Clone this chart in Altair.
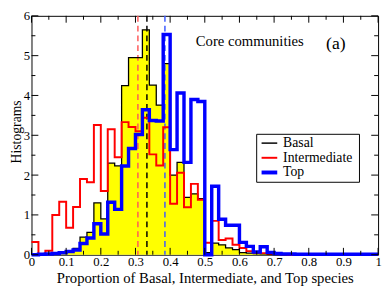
import altair as alt
import pandas as pd

# ---- data (histogram heights, bin width 0.02, bins from 0 to 1) ----
bin_width = 0.02
basal = [0.01, 0.02, 0.02, 0.03, 0.05, 0.08, 0.16, 0.44, 0.56, 1.30,
         0.90, 2.30, 2.23, 4.25, 4.95, 4.95, 5.65, 4.26, 3.76, 4.80,
         2.00, 2.32, 1.44, 1.53, 1.41, 0.05, 0.29, 0.25, 0.17, 0.13,
         0.05, 0.04, 0.03, 0.02, 0.01, 0.0, 0.0, 0.0, 0.0, 0.0,
         0.0, 0.0, 0.0, 0.0, 0.0, 0.0, 0.0, 0.0, 0.0, 0.0]
intermediate = [0.32, 0.0, 0.10, 1.00, 1.33, 0.68, 1.20, 1.90, 1.82, 3.26,
                1.60, 3.15, 2.45, 3.33, 3.21, 3.10, 3.44, 2.52, 2.24, 3.20,
                1.28, 2.06, 1.19, 1.78, 1.38, 0.30, 0.85, 0.37, 0.41, 0.25,
                0.17, 0.09, 0.05, 0.04, 0.03, 0.02, 0.01, 0.0, 0.0, 0.0,
                0.0, 0.0, 0.0, 0.0, 0.0, 0.0, 0.0, 0.0, 0.0, 0.0]
top = [0.0, 0.01, 0.02, 0.03, 0.05, 0.08, 0.12, 0.28, 0.42, 0.78,
       0.52, 1.32, 1.14, 2.23, 2.67, 3.02, 3.64, 3.37, 3.36, 5.53,
       2.64, 4.06, 2.32, 3.90, 3.85, 0.0, 1.72, 0.89, 0.74, 0.74,
       0.31, 0.21, 0.07, 0.20, 0.06, 0.03, 0.02, 0.02, 0.01, 0.01,
       0.01, 0.01, 0.01, 0.01, 0.01, 0.01, 0.01, 0.01, 0.01, 0.01]
mean_names = ["Intermediate", "Basal", "Top"]
mean_values = [0.307, 0.333, 0.385]
mean_colors = ["#ff5a5a", "#000000", "#3c5aff"]

legend_names = ["Basal", "Intermediate", "Top"]
legend_colors = ["#000000", "#ff0000", "#0000ff"]
legend_widths = [1.5, 2, 4]

x_major = [round(i * 0.1, 2) for i in range(11)]
x_minor = [round(0.05 + i * 0.1, 2) for i in range(10)]
y_major = [0, 1, 2, 3, 4, 5, 6]
y_minor = [0.5, 1.5, 2.5, 3.5, 4.5, 5.5]

W, H = 354, 244
FONT = "Liberation Serif"

edges = [round(i * bin_width, 2) for i in range(len(basal) + 1)]


def steps(vals):
    return pd.DataFrame({"x": edges, "y": vals + [vals[-1]]})


xs = alt.Scale(domain=[0, 1], nice=False, zero=False)
ys = alt.Scale(domain=[0, 6], nice=False)
xaxis = alt.Axis(values=x_major, format=".1~f", ticks=False, domain=False, grid=False,
                 labelPadding=1, labelFlush=False, labelOverlap=False,
                 labelFont=FONT, labelFontSize=13,
                 title="Proportion of Basal, Intermediate, and Top species",
                 titleFont=FONT, titleFontSize=15,
                 titleY=28, titleBaseline="alphabetic")
yaxis = alt.Axis(values=y_major, ticks=False, domain=False, grid=False,
                 labelPadding=2, labelFlush=False, labelFont=FONT, labelFontSize=13,
                 title="Histograms", titleFont=FONT, titleFontSize=14,
                 titleX=-11, titleY=118, titleAngle=-90, titleAlign="center",
                 titleBaseline="alphabetic")
X = alt.X("x:Q", scale=xs, axis=xaxis)
Y = alt.Y("y:Q", scale=ys, axis=yaxis)

area = alt.Chart(steps(basal)).mark_area(
    interpolate="step-after", color="#ffff00", opacity=1).encode(x=X, y=Y)

means_df = pd.DataFrame({"x": mean_values, "name": mean_names, "c": mean_colors})
dashed = alt.Chart(means_df).mark_rule(strokeDash=[6, 4], strokeWidth=1.5).encode(
    x=X, color=alt.Color("c:N", scale=None))

line_b = alt.Chart(steps(basal)).mark_line(
    interpolate="step-after", color="#000000", strokeWidth=1.3).encode(x=X, y=Y)
line_i = alt.Chart(steps(intermediate)).mark_line(
    interpolate="step-after", color="#ff0000", strokeWidth=2).encode(x=X, y=Y)
line_t = alt.Chart(steps(top)).mark_line(
    interpolate="step-after", color="#0000ff", strokeWidth=3.5).encode(x=X, y=Y)

# inward ticks on all four sides
xmaj = pd.DataFrame({"x": x_major})
xmin = pd.DataFrame({"x": x_minor})
ymaj = pd.DataFrame({"y": y_major})
ymin = pd.DataFrame({"y": y_minor})
tick_layers = []
for df, ln in [(xmaj, 7), (xmin, 4)]:
    tick_layers.append(alt.Chart(df).mark_rule(color="black").encode(
        x=X, y=alt.value(H), y2=alt.value(H - ln)))
    tick_layers.append(alt.Chart(df).mark_rule(color="black").encode(
        x=X, y=alt.value(0), y2=alt.value(ln)))
for df, ln in [(ymaj, 7), (ymin, 4)]:
    tick_layers.append(alt.Chart(df).mark_rule(color="black").encode(
        y=Y, x=alt.value(0), x2=alt.value(ln)))
    tick_layers.append(alt.Chart(df).mark_rule(color="black").encode(
        y=Y, x=alt.value(W), x2=alt.value(W - ln)))

ann = pd.DataFrame({"x": [0.474, 0.85], "y": [5.235, 5.16],
                    "t": ["Core communities", "(a)"], "s": [15, 18]})
texts = alt.Chart(ann).mark_text(font=FONT, align="left", baseline="alphabetic",
                                 color="black").encode(
    x=X, y=Y, text="t:N", size=alt.Size("s:Q", scale=None))

# legend box
one = pd.DataFrame({"a": [0]})
box = alt.Chart(one).mark_rect(fill="white", stroke="black", strokeWidth=1).encode(
    x=alt.value(230), x2=alt.value(335), y=alt.value(121), y2=alt.value(170))
leg_layers = [box]
for i, (nm, col, sw) in enumerate(zip(legend_names, legend_colors, legend_widths)):
    yy = 130 + i * 15
    leg_layers.append(alt.Chart(one).mark_rule(color=col, strokeWidth=sw).encode(
        x=alt.value(235), x2=alt.value(251), y=alt.value(yy)))
    leg_layers.append(alt.Chart(pd.DataFrame({"t": [nm]})).mark_text(
        font=FONT, fontSize=14, align="left", baseline="middle", color="black").encode(
        x=alt.value(257), y=alt.value(yy), text="t:N"))

chart = alt.layer(area, dashed, line_b, line_i, line_t, *tick_layers, texts,
                  *leg_layers).properties(
    width=W, height=H,
    autosize=alt.AutoSizeParams(type="none"),
    padding={"left": 24, "top": 5, "right": 4, "bottom": 32},
).configure(background="white").configure_view(
    stroke="black", strokeWidth=1
).configure_axis(
    labelFont=FONT, labelFontSize=13, labelColor="black",
    titleFont=FONT, titleFontSize=15, titleFontWeight="normal", titleColor="black",
)

chart.save("out.html", embed_options={"renderer": "svg", "actions": False})
